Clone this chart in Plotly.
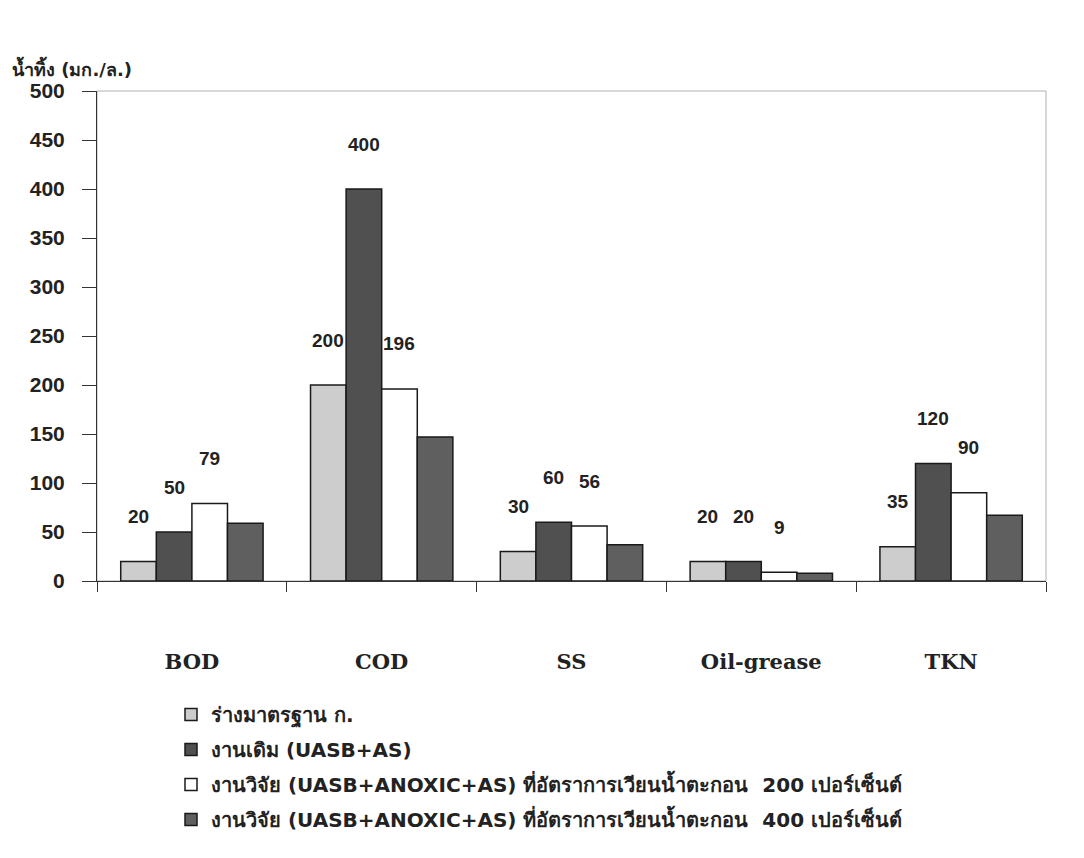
import plotly.graph_objects as go

categories = ["BOD", "COD", "SS", "Oil-grease", "TKN"]
series_names = [
    "ร่างมาตรฐาน ก.",
    "งานเดิม (UASB+AS)",
    "งานวิจัย (UASB+ANOXIC+AS) ที่อัตราการเวียนน้ำตะกอน  200 เปอร์เซ็นต์",
    "งานวิจัย (UASB+ANOXIC+AS) ที่อัตราการเวียนน้ำตะกอน  400 เปอร์เซ็นต์",
]
standard = [20, 200, 30, 20, 35]
original = [50, 400, 60, 20, 120]
research200 = [79, 196, 56, 9, 90]
research400 = [59, 147, 37, 8, 67]
y_ticks = [0, 50, 100, 150, 200, 250, 300, 350, 400, 450, 500]

colors = ["#cdcdcd", "#505050", "#ffffff", "#5f5f5f"]
all_series = [standard, original, research200, research400]
labelled = [True, True, True, False]

# page is drawn with an 8px body offset; plot area target (screen px): x 97..1046, y 91..581
OFF = 8
L, R, T, B = 97 - OFF, 1084 - 1046 + OFF, 91 - OFF, 858 - 581 + OFF
PW, PH = 1046 - 97, 581 - 91

fig = go.Figure()
for i, (name, vals) in enumerate(zip(series_names, all_series)):
    fig.add_trace(go.Bar(
        x=categories, y=vals, name=name,
        marker=dict(color=colors[i], line=dict(color="#1a1a1a", width=1.5)),
        legendgroup=f"g{i}",
    ))

n = len(all_series)
group_w = 0.75
bw = group_w / n
annotations = []
for k, vals in enumerate(all_series):
    if not labelled[k]:
        continue
    for ci, v in enumerate(vals):
        xpos = ci - group_w / 2 + bw * (k + 0.5)
        annotations.append(dict(
            x=xpos, y=v, xref="x", yref="y", text=str(v), showarrow=False,
            yshift=45, font=dict(family="Liberation Sans, Arial", size=19, color="#222222", weight="bold"),
        ))

annotations.append(dict(
    x=(10 - 97) / PW, y=(581 - 68) / PH, xref="paper", yref="paper",
    text="น้ำทิ้ง (มก./ล.)", showarrow=False,
    xanchor="left", yanchor="middle",
    font=dict(family="DejaVu Sans", size=18, color="#222222", weight="bold"),
))

fig.update_layout(
    width=1084, height=858,
    margin=dict(l=L, r=R, t=T, b=B, autoexpand=False),
    paper_bgcolor="white", plot_bgcolor="white",
    barmode="group", bargap=0.25, bargroupgap=0,
    showlegend=True,
    legend=dict(
        xref="paper", yref="paper", x=(171 - 97) / PW, y=(581 - 695) / PH,
        xanchor="left", yanchor="top",
        font=dict(family="DejaVu Sans", size=20, color="#222222", weight="bold"),
        tracegroupgap=6, traceorder="grouped", itemwidth=30,
        bgcolor="rgba(0,0,0,0)",
    ),
    annotations=annotations,
    shapes=[dict(type="rect", xref="paper", yref="paper", x0=0, x1=1, y0=0, y1=1,
                 line=dict(color="#b0b0b0", width=1), layer="below")],
    xaxis=dict(
        type="category", showgrid=False, showline=True, linecolor="#333333", linewidth=1,
        ticks="outside", tickson="boundaries", ticklen=10, tickcolor="#333333",
        ticklabelstandoff=62, tickangle=0,
        tickfont=dict(family="DejaVu Serif, Liberation Serif", size=21, color="#222222", weight="bold"),
        range=[-0.5, 4.5],
    ),
    yaxis=dict(
        range=[0, 500], tickvals=y_ticks, showgrid=False, zeroline=False,
        showline=True, linecolor="#333333", linewidth=1,
        ticks="outside", ticklen=14, tickcolor="#333333", ticklabelstandoff=13,
        tickfont=dict(family="Liberation Sans, Arial", size=21, color="#222222", weight="bold"),
    ),
)

fig.write_html("out.html")
